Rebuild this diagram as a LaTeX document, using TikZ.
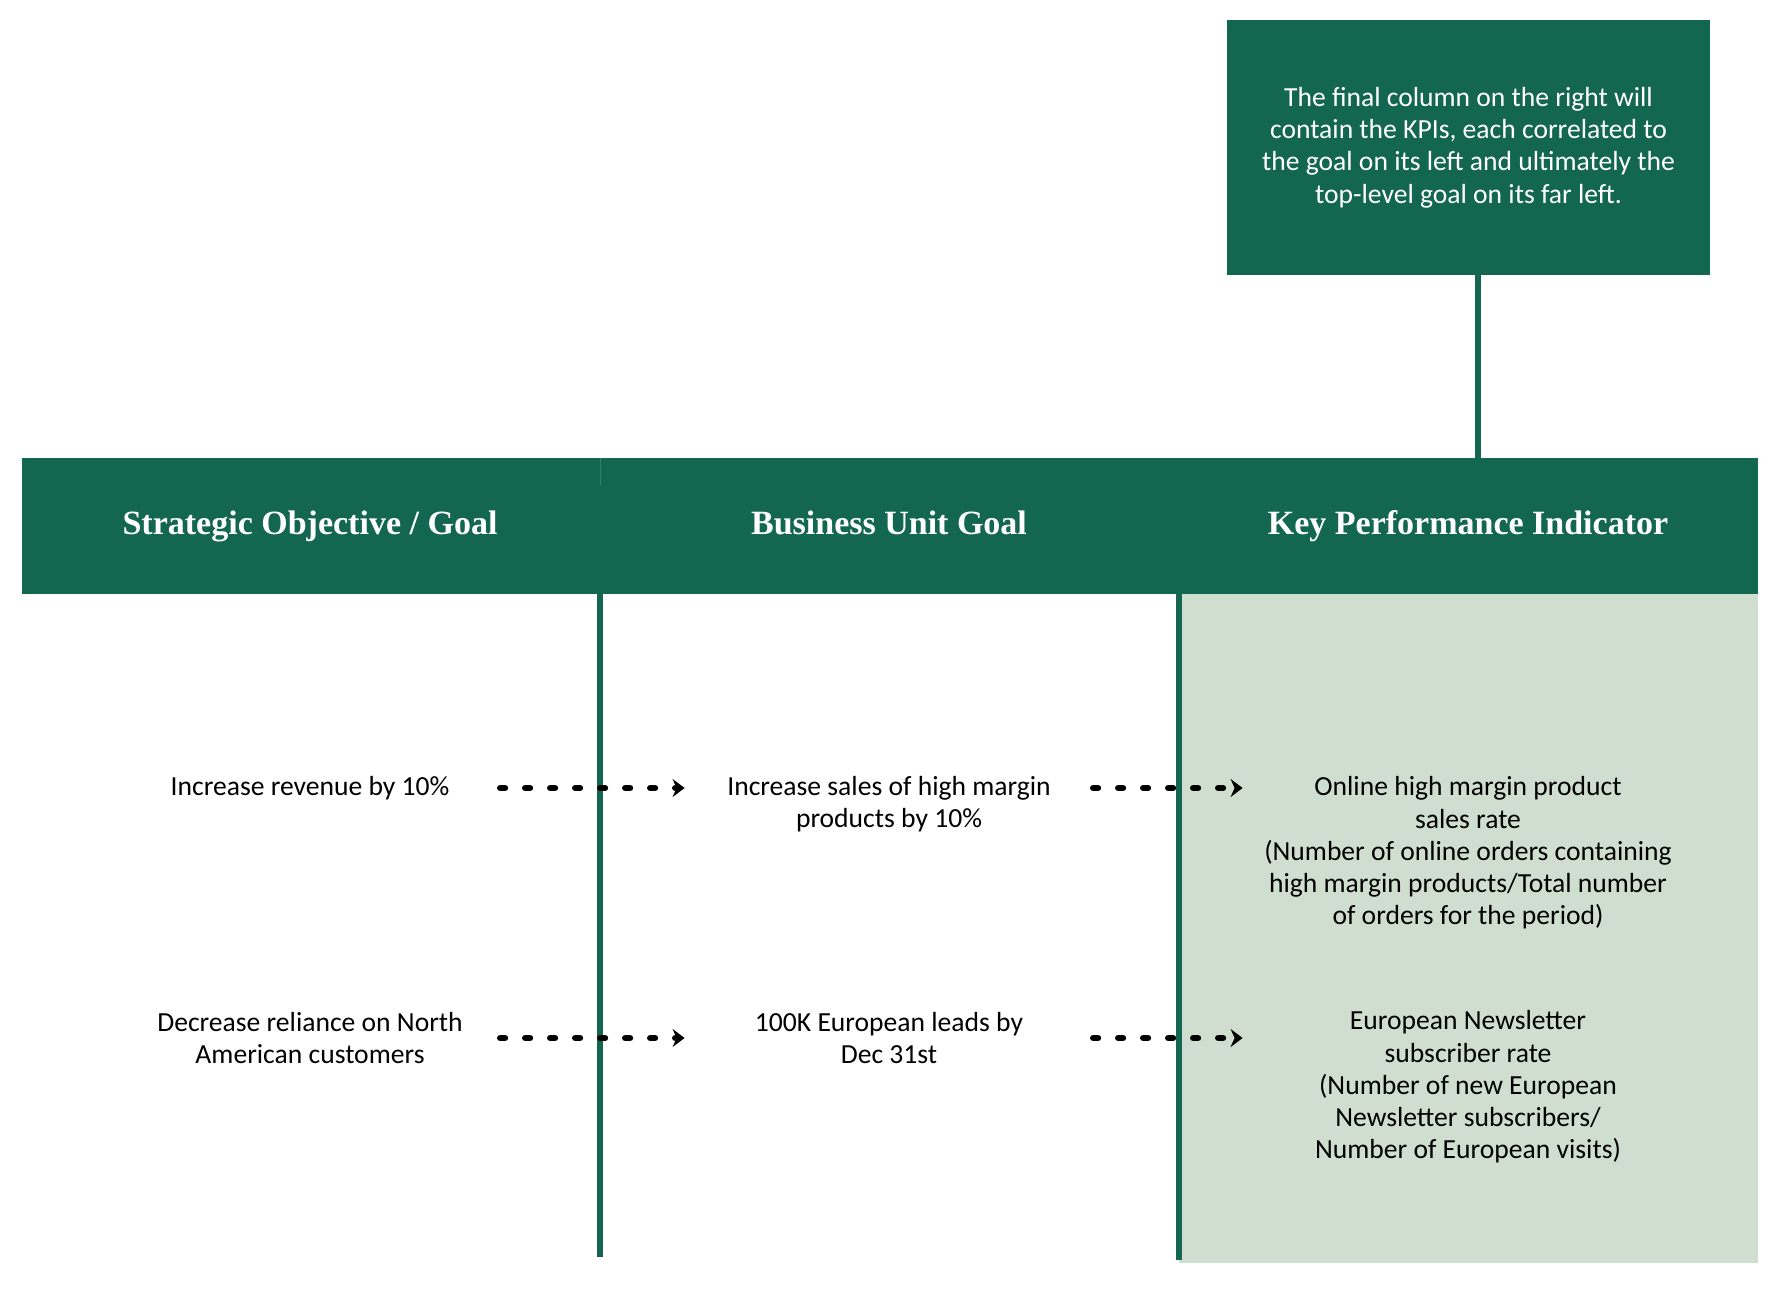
\documentclass[tikz,border=0pt]{standalone}
\usepackage{fontspec}
\setmainfont{Carlito}
\newfontfamily\headfont{Liberation Serif}
\usetikzlibrary{arrows.meta}
\definecolor{kpigreen}{RGB}{19,103,80}
\definecolor{kpilight}{RGB}{207,222,207}
\tikzset{
  bodytext/.style={align=center,inner sep=0pt,font=\fontsize{13.8}{16.15}\selectfont},
  headtext/.style={text=white,inner sep=0pt,text height=11.3pt,text depth=0pt,
    font=\headfont\bfseries\fontsize{17}{20}\selectfont},
  flowarrow/.style={line width=3.4pt,dash pattern=on 2.2pt off 10.3pt,line cap=round,
    -{Stealth[length=6pt,width=9pt,inset=2pt]}},
  colline/.style={draw=kpigreen,line width=2.8pt}
}
\begin{document}
\begin{tikzpicture}[x=0.5pt,y=-0.5pt]
        \useasboundingbox (0,0) rectangle (1776,1291);
        % shaded kpi column and header band
        \fill[kpilight] (1179,594) rectangle (1758,1263);
        \node[fill=kpigreen,minimum width=868.25pt,minimum height=68pt,inner sep=0pt] (head) at (889.75,526) {};
        \draw[kpigreen!85!white,line width=0.4pt] (600,458) -- (600,485);
        % note on top
        \node[fill=kpigreen,minimum width=241.5pt,minimum height=127.5pt,bodytext,text=white] (note) at (1468.5,147.5)
            {The final column on the right will\\contain the KPIs, each correlated to\\the goal on its left and ultimately the\\top-level goal on its far left.};
        \draw[colline] ([xshift=4.75pt]note.south) -- ([xshift=4.75pt]note.south |- head.north);
        % column titles
        \node[headtext] (t1) at (310,523) {Strategic Objective / Goal};
        \node[headtext] (t2) at (889,523) {Business Unit Goal};
        \node[headtext] (t3) at (1468,523) {Key Performance Indicator};
        % column lines
        \draw[colline] (600,594) -- (600,1257);
        \draw[colline] (1179,594) -- (1179,1260);
        % row 1
        \node[bodytext,minimum width=190pt] (obj1) at (310,788) {Increase revenue by 10\%};
        \node[bodytext,minimum width=204pt] (bu1) at (889,804) {Increase sales of high margin\\products by 10\%};
        \node[bodytext,minimum width=225pt] (kpi1) at (1468,853) {Online high margin product\\sales rate\\(Number of online orders containing\\high margin products/Total number\\of orders for the period)};
        % row 2
        \node[bodytext,minimum width=190pt] (obj2) at (310,1038) {Decrease reliance on North\\American customers};
        \node[bodytext,minimum width=204pt] (bu2) at (889,1038) {100K European leads by\\Dec 31st};
        \node[bodytext,minimum width=225pt] (kpi2) at (1468,1087) {European Newsletter\\subscriber rate\\(Number of new European\\Newsletter subscribers/\\Number of European visits)};
        % arrows
        \draw[flowarrow] (obj1.east) -- (obj1.east -| bu1.west);
        \draw[flowarrow] (bu1.east |- obj1.east) -- (obj1.east -| kpi1.west);
        \draw[flowarrow] (obj2.east) -- (obj2.east -| bu2.west);
        \draw[flowarrow] (bu2.east |- obj2.east) -- (obj2.east -| kpi2.west);
    \end{tikzpicture}
\end{document}
